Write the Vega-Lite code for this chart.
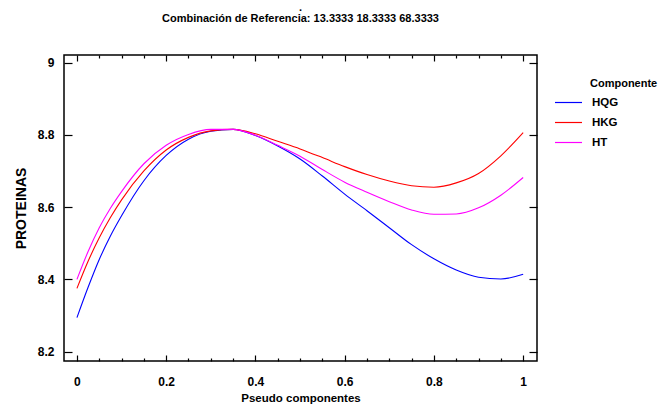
{
  "$schema": "https://vega.github.io/schema/vega-lite/v6.json",
  "width": 473,
  "height": 306,
  "autosize": {"type": "none"},
  "padding": {"left": 64, "top": 55, "right": 122, "bottom": 45},
  "background": "white",
  "title": {
    "text": [".", "Combinación de Referencia: 13.3333 18.3333 68.3333"],
    "font": "Liberation Sans Narrow, Arial Narrow, Liberation Sans",
    "fontSize": 11,
    "fontWeight": "bold",
    "lineHeight": 11,
    "anchor": "middle",
    "offset": 30,
    "color": "black"
  },
  "config": {
    "view": {"stroke": "black", "strokeWidth": 1.5},
    "axis": {
      "labelFont": "Liberation Sans Narrow, Arial Narrow, Liberation Sans",
      "labelFontSize": 12,
      "labelFontWeight": "bold",
      "labelColor": "black",
      "titleFont": "Liberation Sans Narrow, Arial Narrow, Liberation Sans",
      "titleFontSize": 11.5,
      "titleFontWeight": "bold",
      "titleColor": "black",
      "tickColor": "black",
      "tickWidth": 1.2,
      "domain": false,
      "grid": false,
      "labelOverlap": false
    }
  },
  "data": {
    "values": [
      {"x": 0, "comp": "HQG", "v": 8.294}, {"x": 0.025, "comp": "HQG", "v": 8.378}, {"x": 0.05, "comp": "HQG", "v": 8.455}, {"x": 0.075, "comp": "HQG", "v": 8.52}, {"x": 0.1, "comp": "HQG", "v": 8.576}, {"x": 0.15, "comp": "HQG", "v": 8.673}, {"x": 0.2, "comp": "HQG", "v": 8.743}, {"x": 0.25, "comp": "HQG", "v": 8.788}, {"x": 0.3, "comp": "HQG", "v": 8.81}, {"x": 0.35, "comp": "HQG", "v": 8.815}, {"x": 0.4, "comp": "HQG", "v": 8.798}, {"x": 0.45, "comp": "HQG", "v": 8.769}, {"x": 0.5, "comp": "HQG", "v": 8.733}, {"x": 0.55, "comp": "HQG", "v": 8.686}, {"x": 0.6, "comp": "HQG", "v": 8.636}, {"x": 0.65, "comp": "HQG", "v": 8.59}, {"x": 0.7, "comp": "HQG", "v": 8.543}, {"x": 0.75, "comp": "HQG", "v": 8.496}, {"x": 0.8, "comp": "HQG", "v": 8.457}, {"x": 0.85, "comp": "HQG", "v": 8.426}, {"x": 0.9, "comp": "HQG", "v": 8.406}, {"x": 0.95, "comp": "HQG", "v": 8.401}, {"x": 1, "comp": "HQG", "v": 8.414},
      {"x": 0, "comp": "HKG", "v": 8.375}, {"x": 0.025, "comp": "HKG", "v": 8.45}, {"x": 0.05, "comp": "HKG", "v": 8.515}, {"x": 0.075, "comp": "HKG", "v": 8.571}, {"x": 0.1, "comp": "HKG", "v": 8.62}, {"x": 0.15, "comp": "HKG", "v": 8.7}, {"x": 0.2, "comp": "HKG", "v": 8.758}, {"x": 0.25, "comp": "HKG", "v": 8.793}, {"x": 0.3, "comp": "HKG", "v": 8.811}, {"x": 0.35, "comp": "HKG", "v": 8.815}, {"x": 0.4, "comp": "HKG", "v": 8.803}, {"x": 0.45, "comp": "HKG", "v": 8.782}, {"x": 0.5, "comp": "HKG", "v": 8.761}, {"x": 0.55, "comp": "HKG", "v": 8.737}, {"x": 0.6, "comp": "HKG", "v": 8.712}, {"x": 0.65, "comp": "HKG", "v": 8.69}, {"x": 0.7, "comp": "HKG", "v": 8.672}, {"x": 0.75, "comp": "HKG", "v": 8.659}, {"x": 0.8, "comp": "HKG", "v": 8.655}, {"x": 0.85, "comp": "HKG", "v": 8.667}, {"x": 0.9, "comp": "HKG", "v": 8.693}, {"x": 0.95, "comp": "HKG", "v": 8.742}, {"x": 1, "comp": "HKG", "v": 8.806},
      {"x": 0, "comp": "HT", "v": 8.4}, {"x": 0.025, "comp": "HT", "v": 8.477}, {"x": 0.05, "comp": "HT", "v": 8.543}, {"x": 0.075, "comp": "HT", "v": 8.597}, {"x": 0.1, "comp": "HT", "v": 8.643}, {"x": 0.15, "comp": "HT", "v": 8.72}, {"x": 0.2, "comp": "HT", "v": 8.771}, {"x": 0.25, "comp": "HT", "v": 8.801}, {"x": 0.3, "comp": "HT", "v": 8.815}, {"x": 0.35, "comp": "HT", "v": 8.815}, {"x": 0.4, "comp": "HT", "v": 8.799}, {"x": 0.45, "comp": "HT", "v": 8.771}, {"x": 0.5, "comp": "HT", "v": 8.741}, {"x": 0.55, "comp": "HT", "v": 8.704}, {"x": 0.6, "comp": "HT", "v": 8.669}, {"x": 0.65, "comp": "HT", "v": 8.641}, {"x": 0.7, "comp": "HT", "v": 8.615}, {"x": 0.75, "comp": "HT", "v": 8.592}, {"x": 0.8, "comp": "HT", "v": 8.58}, {"x": 0.85, "comp": "HT", "v": 8.581}, {"x": 0.9, "comp": "HT", "v": 8.598}, {"x": 0.95, "comp": "HT", "v": 8.633}, {"x": 1, "comp": "HT", "v": 8.682}
    ]
  },
  "layer": [
    {
      "mark": {"type": "line", "interpolate": "monotone", "strokeWidth": 1.1},
      "encoding": {
        "x": {
          "field": "x", "type": "quantitative",
          "scale": {"domain": [-0.029, 1.031], "nice": false, "zero": false},
          "axis": {
            "orient": "bottom",
            "title": "Pseudo componentes",
            "titlePadding": 2,
            "values": [0, 0.05, 0.1, 0.15, 0.2, 0.25, 0.3, 0.35, 0.4, 0.45, 0.5, 0.55, 0.6, 0.65, 0.7, 0.75, 0.8, 0.85, 0.9, 0.95, 1],
            "labelExpr": "abs(datum.value * 5 - round(datum.value * 5)) < 0.001 ? format(datum.value, '~g') : ''",
            "tickSize": {"condition": {"test": "abs(datum.value * 5 - round(datum.value * 5)) < 0.001", "value": -6}, "value": -3},
            "labelPadding": 21
          }
        },
        "y": {
          "field": "v", "type": "quantitative",
          "scale": {"domain": [8.174, 9.021], "nice": false, "zero": false},
          "axis": {
            "orient": "left",
            "title": "PROTEINAS",
            "titleFont": "Liberation Sans",
            "titleFontSize": 14,
            "titlePadding": 9,
            "values": [8.2, 8.4, 8.6, 8.8, 9],
            "format": "~g",
            "tickSize": -8,
            "labelPadding": 18
          }
        },
        "color": {
          "field": "comp", "type": "nominal",
          "scale": {"domain": ["HQG", "HKG", "HT"], "range": ["#0000ff", "#ff0000", "#ff00ff"]},
          "legend": {
            "title": "Componente",
            "orient": "none",
            "legendX": 526,
            "legendY": 23,
            "symbolType": "stroke",
            "symbolSize": 729,
            "symbolStrokeWidth": 1.2,
            "symbolOffset": -36,
            "labelOffset": 9,
            "titleFont": "Liberation Sans Narrow, Arial Narrow, Liberation Sans",
            "titleFontSize": 11,
            "titleFontWeight": "bold",
            "titleColor": "black",
            "labelFont": "Liberation Sans Narrow, Arial Narrow, Liberation Sans",
            "labelFontSize": 11.5,
            "labelFontWeight": "bold",
            "labelColor": "black",
            "rowPadding": -8,
            "titlePadding": -1
          }
        }
      }
    },
    {
      "mark": {"type": "point", "opacity": 0},
      "encoding": {
        "x": {
          "field": "x", "type": "quantitative",
          "scale": {"domain": [-0.029, 1.031], "nice": false, "zero": false},
          "axis": {
            "orient": "top",
            "title": null,
            "labels": false,
            "values": [0, 0.05, 0.1, 0.15, 0.2, 0.25, 0.3, 0.35, 0.4, 0.45, 0.5, 0.55, 0.6, 0.65, 0.7, 0.75, 0.8, 0.85, 0.9, 0.95, 1],
            "tickSize": {"condition": {"test": "abs(datum.value * 5 - round(datum.value * 5)) < 0.001", "value": -6}, "value": -3}
          }
        },
        "y": {
          "field": "v", "type": "quantitative",
          "scale": {"domain": [8.174, 9.021], "nice": false, "zero": false},
          "axis": {
            "orient": "right",
            "title": null,
            "labels": false,
            "values": [8.2, 8.4, 8.6, 8.8, 9],
            "tickSize": -8
          }
        }
      }
    }
  ],
  "resolve": {"axis": {"x": "independent", "y": "independent"}}
}
